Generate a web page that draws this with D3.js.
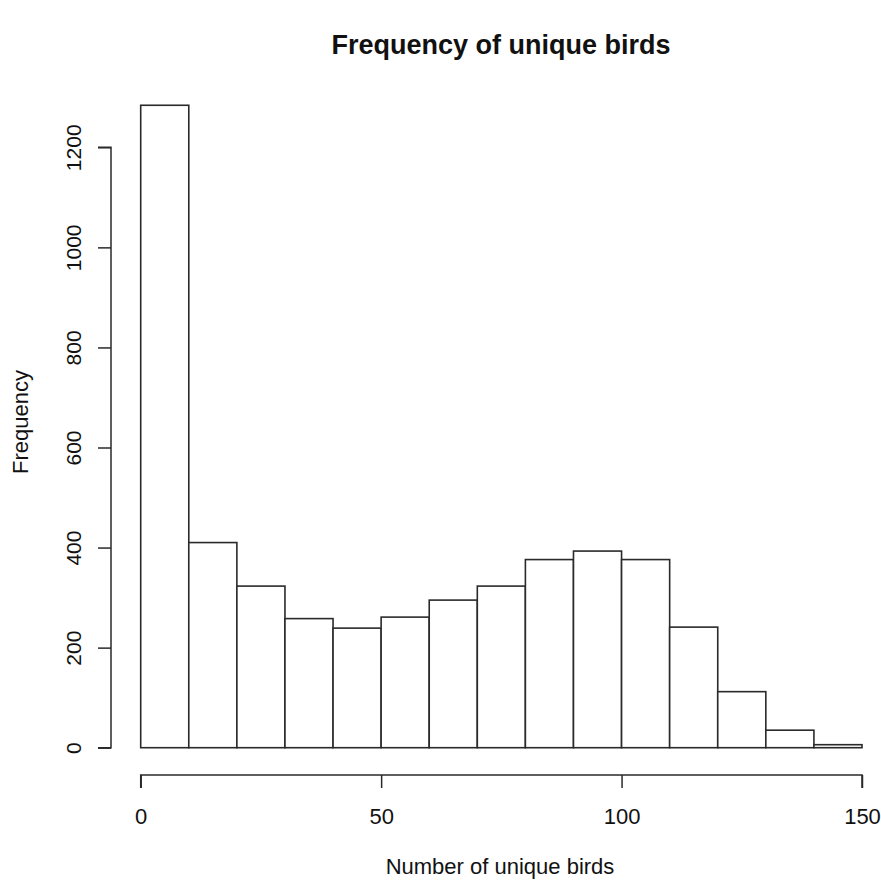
<!DOCTYPE html>
<html>
<head>
<meta charset="utf-8">
<script src="https://cdn.jsdelivr.net/npm/d3@7"></script>
<style>
  body { margin: 0; background: #fff; }
  text { font-family: "Liberation Sans", Arial, sans-serif; fill: #111; }
</style>
</head>
<body>
<div id="chart"></div>
<script>
  // histogram bins (width 10) and counts
  const binStarts = [0, 10, 20, 30, 40, 50, 60, 70, 80, 90, 100, 110, 120, 130, 140];
  const counts = [1284, 410, 323, 258, 239, 261, 295, 323, 376, 393, 376, 241, 112, 35, 6];
  const xTicks = [0, 50, 100, 150];
  const yTicks = [0, 200, 400, 600, 800, 1000, 1200];

  const width = 881;
  const height = 884;
  const stroke = "#2a2a2a";

  const x = d3.scaleLinear().domain([0, 150]).range([140.7, 862]);
  const y = d3.scaleLinear().domain([0, 1200]).range([747.7, 147.3]);

  const svg = d3
    .select("#chart")
    .append("svg")
    .attr("width", width)
    .attr("height", height);

  /* bars */
  svg
    .append("g")
    .selectAll("rect")
    .data(binStarts)
    .enter()
    .append("rect")
    .attr("x", (d) => x(d))
    .attr("width", (d) => x(d + 10) - x(d))
    .attr("y", (d, i) => y(counts[i]))
    .attr("height", (d, i) => y(0) - y(counts[i]))
    .attr("fill", "#fff")
    .attr("stroke", stroke)
    .attr("stroke-width", 1.6);

  /* x axis */
  const xAxis = svg
    .append("g")
    .attr("transform", "translate(0,775)")
    .call(d3.axisBottom(x).tickValues(xTicks).tickFormat(d3.format("d")).tickSize(13).tickPadding(20));
  xAxis.select(".domain").attr("d", `M${x(0)},13V0H${x(150)}V13`);

  /* y axis */
  const yAxis = svg
    .append("g")
    .attr("transform", "translate(111,0)")
    .call(d3.axisLeft(y).tickValues(yTicks).tickFormat(d3.format("d")).tickSize(13).tickPadding(0));
  yAxis.select(".domain").attr("d", `M-13,${y(0)}H0V${y(1200)}H-13`);

  svg.selectAll(".tick line, .domain")
    .attr("stroke", stroke)
    .attr("stroke-width", 1.5);
  svg.selectAll(".tick text")
    .style("font-family", '"Liberation Sans", Arial, sans-serif')
    .attr("font-size", 21)
    .attr("fill", "#222");
  xAxis.selectAll(".tick text").attr("font-size", 22);

  yAxis.selectAll(".tick text")
    .attr("x", null)
    .attr("dy", null)
    .attr("text-anchor", "middle")
    .attr("transform", "translate(-38,0) rotate(-90)")
    .attr("dominant-baseline", "central");

  /* titles */
  svg
    .append("text")
    .attr("x", 501)
    .attr("y", 54)
    .attr("text-anchor", "middle")
    .attr("font-size", 27)
    .attr("font-weight", "bold")
    .text("Frequency of unique birds");

  svg
    .append("text")
    .attr("x", 500)
    .attr("y", 874)
    .attr("text-anchor", "middle")
    .attr("font-size", 22)
    .text("Number of unique birds");

  svg
    .append("text")
    .attr("transform", "translate(28,422) rotate(-90)")
    .attr("text-anchor", "middle")
    .attr("font-size", 22)
    .text("Frequency");
</script>
</body>
</html>
